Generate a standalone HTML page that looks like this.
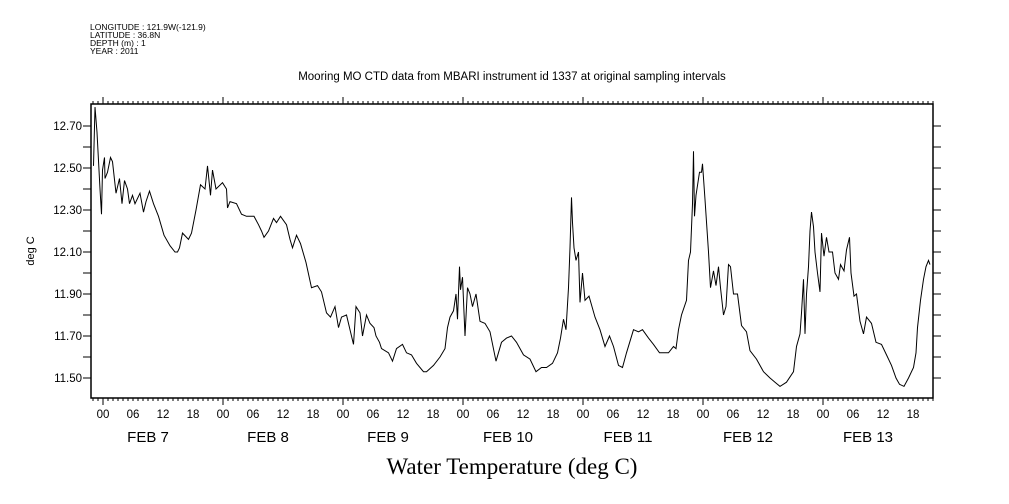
<!DOCTYPE html>
<html><head><meta charset="utf-8"><style>
html,body{margin:0;padding:0;background:#fff;}
svg{display:block;font-family:"Liberation Sans",sans-serif;}
</style></head><body>
<svg id="chart" width="1009" height="504" viewBox="0 0 1009 504" xmlns="http://www.w3.org/2000/svg">
<rect width="1009" height="504" fill="#fff"/>
<g font-size="8.5" fill="#000">
<text x="90" y="30">LONGITUDE : 121.9W(-121.9)</text>
<text x="90" y="38">LATITUDE : 36.8N</text>
<text x="90" y="46">DEPTH (m) : 1</text>
<text x="90" y="54">YEAR : 2011</text>
</g>
<text x="512" y="80" font-size="11.5" text-anchor="middle">Mooring MO CTD data from MBARI instrument id 1337 at original sampling intervals</text>
<text transform="translate(34,251) rotate(-90)" font-size="11" text-anchor="middle">deg C</text>
<text x="512" y="474" font-family="'Liberation Serif',serif" font-size="23" text-anchor="middle">Water Temperature (deg C)</text>
<g id="axes"></g>
<path id="line" fill="none" stroke="#000" stroke-width="1"/>
<rect x="91" y="104" width="842" height="294" fill="none" stroke="#000" stroke-width="1.5"/>
</svg>
<script>
const hours = [-1.9,-1.6,-1.2,-0.6,-0.3,-0.1,0.3,0.4,0.9,1.5,1.9,2.6,3.3,3.8,4.3,4.9,5.3,5.9,6.4,7.4,8.1,8.6,9.3,10.1,11.1,12.2,13.4,14.4,14.9,15.3,15.9,17.1,17.7,18.6,19.5,20.4,20.9,21.5,21.9,22.6,23.9,24.7,24.9,25.4,26.7,27.7,28.7,30.2,31.1,31.7,32.2,33.1,34.1,34.7,35.5,36.7,37.4,37.9,38.7,39.5,40.6,41.7,42.9,43.7,44.7,45.5,46.4,47.1,47.7,48.7,49.4,50.1,50.6,51.4,51.9,52.7,53.4,54.2,54.6,55.3,55.7,57.1,57.9,58.7,59.9,60.7,61.7,62.7,64.1,64.7,66.1,67.4,68.4,68.9,69.4,70.1,70.6,70.9,71.3,71.5,71.9,72.4,72.9,73.4,73.9,74.6,75.4,76.4,77.4,78.6,79.7,80.7,81.7,82.7,84.1,85.4,86.6,87.7,88.7,89.9,90.9,91.5,92.1,92.6,93.1,93.4,93.7,93.9,94.2,94.6,95.1,95.4,95.9,96.4,97.2,98.4,99.4,100.4,101.3,102.1,103.1,103.9,104.7,106.1,107.1,107.9,109.1,110.1,111.3,113.1,114.1,114.6,115.1,115.7,116.7,117.1,117.5,117.9,118.1,118.3,118.6,119.3,119.7,119.9,120.4,121.1,121.5,122.1,122.6,123.1,123.5,124.1,124.6,125.1,125.5,126.1,126.9,127.7,128.7,129.4,130.7,132.1,133.4,134.4,135.4,136.7,138.1,138.7,139.4,139.7,140.1,140.4,140.7,141.1,141.4,141.7,142.1,142.4,142.9,143.4,143.7,144.2,144.7,145.2,145.9,146.4,147.1,147.5,148.2,148.7,149.3,149.6,150.2,150.7,151.4,152.1,152.7,153.7,154.6,155.7,156.7,157.7,158.6,159.3,160.2,161.1,162.1,162.6,162.9,163.5,164.1,164.6,165.1,165.4];
const temps = [12.51,12.79,12.67,12.40,12.28,12.49,12.55,12.45,12.48,12.55,12.53,12.38,12.45,12.33,12.44,12.40,12.33,12.37,12.33,12.38,12.29,12.34,12.39,12.33,12.27,12.18,12.13,12.10,12.10,12.12,12.19,12.16,12.19,12.30,12.42,12.40,12.51,12.37,12.49,12.40,12.43,12.40,12.31,12.34,12.33,12.28,12.27,12.27,12.23,12.20,12.17,12.20,12.26,12.24,12.27,12.23,12.16,12.12,12.18,12.14,12.05,11.93,11.94,11.91,11.81,11.79,11.84,11.74,11.79,11.80,11.73,11.66,11.84,11.81,11.70,11.80,11.76,11.74,11.70,11.67,11.64,11.62,11.58,11.64,11.66,11.62,11.61,11.57,11.53,11.53,11.56,11.60,11.64,11.74,11.79,11.82,11.90,11.78,12.03,11.92,11.98,11.70,11.93,11.90,11.84,11.90,11.77,11.76,11.72,11.58,11.67,11.69,11.70,11.67,11.61,11.59,11.53,11.55,11.55,11.57,11.62,11.69,11.78,11.73,11.93,12.12,12.36,12.24,12.12,12.06,12.10,11.86,12.00,11.87,11.89,11.79,11.73,11.65,11.70,11.65,11.56,11.55,11.62,11.73,11.72,11.73,11.69,11.66,11.62,11.62,11.65,11.64,11.73,11.80,11.87,12.06,12.10,12.33,12.58,12.27,12.37,12.48,12.48,12.52,12.35,12.10,11.93,12.01,11.94,12.03,11.93,11.80,11.84,12.04,12.03,11.90,11.90,11.75,11.72,11.63,11.59,11.53,11.50,11.48,11.46,11.48,11.53,11.65,11.71,11.81,11.97,11.71,11.90,12.03,12.20,12.29,12.22,12.10,12.00,11.91,12.19,12.08,12.17,12.10,12.10,12.00,11.97,12.04,12.01,12.11,12.17,12.00,11.89,11.90,11.77,11.71,11.79,11.76,11.67,11.66,11.61,11.56,11.50,11.47,11.46,11.50,11.55,11.62,11.74,11.87,11.97,12.03,12.06,12.04];
const yTickLabels = ["11.50","11.70","11.90","12.10","12.30","12.50","12.70"];
const hourLabels = ["00","06","12","18"];
const dayLabels = ["FEB  7","FEB  8","FEB  9","FEB 10","FEB 11","FEB 12","FEB 13"];

const X0=91,X1=933,Y0=104,Y1=398;
function xs(h){return 103+h*5;}
function ys(v){return 378-(v-11.5)*210;}
const NS="http://www.w3.org/2000/svg";
const axes=document.getElementById('axes');
function ln(x1,y1,x2,y2,name){const l=document.createElementNS(NS,'line');l.setAttribute('x1',x1);l.setAttribute('y1',y1);l.setAttribute('x2',x2);l.setAttribute('y2',y2);l.setAttribute('stroke','#000');l.setAttribute('stroke-width','1');


axes.appendChild(l);}
function tx(x,y,s,size,anchor,name){const t=document.createElementNS(NS,'text');t.setAttribute('x',x);t.setAttribute('y',y);t.setAttribute('font-size',size);t.setAttribute('text-anchor',anchor);t.textContent=s;


axes.appendChild(t);}
for(let k=0;k<=12;k++){const v=11.5+k*0.1;const y=ys(v);
 ln(X0-8,y,X0,y,'y-tick-left');ln(X1,y,X1+8,y,'y-tick-right');}
yTickLabels.forEach(s=>{tx(X0-9,ys(parseFloat(s))+4,s,11.5,'end','y-tick-label');});
for(let h=-2;h<=166;h++){const x=xs(h);if(x<X0||x>X1)continue;
 const len=(h%24===0)?7:3;
 ln(x,Y1,x,Y1+len,'x-tick-bottom');ln(x,Y0-len,x,Y0,'x-tick-top');}
for(let d=0;d<7;d++){
 for(let i=0;i<4;i++){const x=xs(d*24+i*6);if(x<=X1)tx(x,418,hourLabels[i],11.5,'middle','x-hour-label');}
 tx(xs(d*24+9),442,dayLabels[d],15,'middle','x-day-label');}
let dstr='';
hours.forEach((h,i)=>{dstr+=(i?'L':'M')+xs(h).toFixed(1)+','+ys(temps[i]).toFixed(1);});
document.getElementById('line').setAttribute('d',dstr);
</script>
</body></html>
